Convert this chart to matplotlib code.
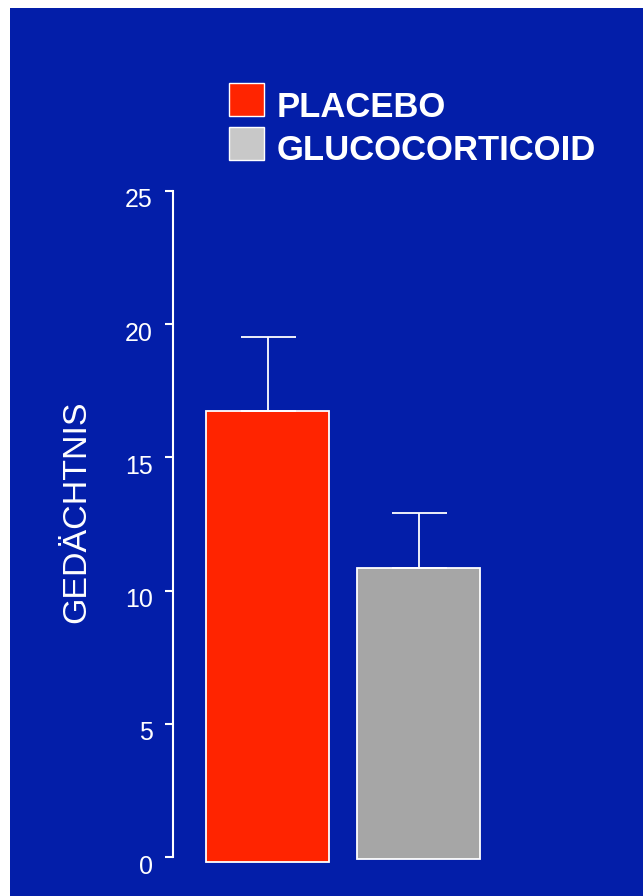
import matplotlib
matplotlib.use('Agg')
import matplotlib.pyplot as plt
import matplotlib.transforms as mtransforms
from matplotlib.patches import Rectangle

# data
groups = ['PLACEBO', 'GLUCOCORTICOID']
means = [16.74, 10.85]
errors_up = [2.78, 2.07]
yticks = [0, 5, 10, 15, 20, 25]
ylabel = 'GEDÄCHTNIS'

bar_colors = ['#ff2400', '#a6a6a6']
legend_colors = ['#ff2400', '#c8c8c8']
bg = '#031ea9'

plt.rcParams['font.family'] = ['Liberation Sans', 'DejaVu Sans']

W, H = 643, 896
fig = plt.figure(figsize=(W / 100, H / 100), dpi=100, facecolor='white')

# blue panel with small white margin top/left, kept behind the axes
fig.patches.append(Rectangle((10 / W, 0), 1 - 10 / W, 1 - 8 / H,
                             transform=fig.transFigure, facecolor=bg,
                             edgecolor='none', zorder=-5))

px_unit_y = (857 - 191) / 25.0
ymin = -0.5
ax_bottom = 1 - (857 - ymin * px_unit_y) / H
ax_top = 1 - 191 / H
ax_left = 173 / W
ax_right = 600 / W
ax = fig.add_axes([ax_left, ax_bottom, ax_right - ax_left, ax_top - ax_bottom])
ax.set_facecolor('none')
ax.set_zorder(2)

x = [0, 1]
bottoms = [-0.19, -0.08]
heights = [m - b for m, b in zip(means, bottoms)]
ax.bar(x, heights, bottom=bottoms, width=0.81, color=bar_colors,
       edgecolor='white', linewidth=1.3, zorder=2)
ax.errorbar(x, means, yerr=[[0, 0], errors_up], fmt='none', ecolor='white',
            elinewidth=1.3, capsize=19.8, capthick=1.3, zorder=3)

ax.set_xlim(-(267.5 - 173) / 151, (600 - 267.5) / 151)
ax.set_ylim(ymin, 25)
ax.set_yticks(yticks)
ax.set_yticklabels([str(t) for t in yticks])
ax.set_xticks([])

for s in ['top', 'right', 'bottom']:
    ax.spines[s].set_visible(False)
ax.spines['left'].set_color('white')
ax.spines['left'].set_linewidth(1.5)
ax.spines['left'].set_bounds(0, 25)
ax.tick_params(axis='y', colors='white', labelsize=18, length=5.8,
               width=1.5, pad=8.6)

# labels sit a little below their ticks in the reference
shift = mtransforms.ScaledTranslation(0, -7 / 100, fig.dpi_scale_trans)
for lab in ax.get_yticklabels():
    lab.set_transform(lab.get_transform() + shift)

fig.text(77 / W, 1 - 512 / H, ylabel, rotation=90, ha='center', va='center',
         color='white', fontsize=24.5)

# legend drawn by hand
sw_x, sw_w, sw_h = 229, 35, 33
sw_tops = [83, 127]
baselines = [116.7, 160]
for name, col, top, base in zip(groups, legend_colors, sw_tops, baselines):
    fig.patches.append(Rectangle((sw_x / W, 1 - (top + sw_h) / H), sw_w / W, sw_h / H,
                                 transform=fig.transFigure, facecolor=col,
                                 edgecolor='white', linewidth=1.0, zorder=3))
    fig.text(277 / W, 1 - base / H, name, ha='left', va='baseline',
             color='white', fontsize=24.9, fontweight='bold')

fig.savefig('out.png', dpi=100, facecolor='white')
